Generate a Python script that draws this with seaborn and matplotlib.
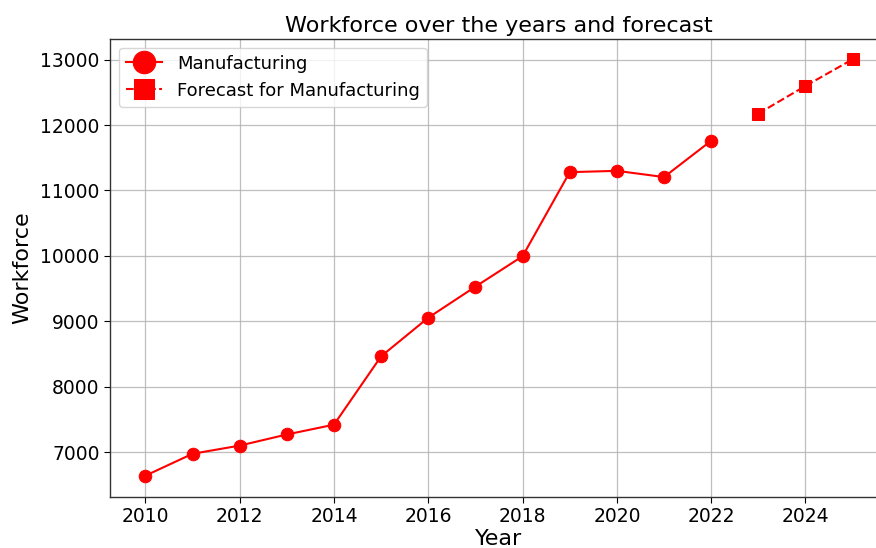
import matplotlib
matplotlib.use("Agg")
import matplotlib.pyplot as plt
import seaborn as sns
import pandas as pd

# Observed workforce in manufacturing
years = [2010, 2011, 2012, 2013, 2014, 2015, 2016, 2017, 2018, 2019, 2020, 2021, 2022]
workforce = [6640, 6975, 7100, 7270, 7420, 8465, 9055, 9530, 9995, 11280, 11300, 11205, 11760]

# Forecast values
forecast_years = [2023, 2024, 2025]
forecast_workforce = [12175, 12598, 13005]

plt.rcParams["font.family"] = ["DejaVu Sans"]

hist = pd.DataFrame({"Year": years, "Workforce": workforce})
fc = pd.DataFrame({"Year": forecast_years, "Workforce": forecast_workforce})

fig = plt.figure(figsize=(8.76, 5.48), dpi=100)
ax = fig.add_axes([110 / 876, 1 - 496.5 / 548, 778 / 876, (496.5 - 38.5) / 548])

sns.lineplot(data=hist, x="Year", y="Workforce", ax=ax, color="red",
             marker="o", markersize=9, markeredgecolor="red", linewidth=1.5,
             label="Manufacturing")
sns.lineplot(data=fc, x="Year", y="Workforce", ax=ax, color="red",
             marker="s", markersize=8, markeredgecolor="red", linewidth=1.5,
             linestyle="--", label="Forecast for Manufacturing")

ax.set_xlim(2009.25, 2025.75)
ax.set_ylim(6322, 13323)
ax.set_xticks([2010, 2012, 2014, 2016, 2018, 2020, 2022, 2024])
ax.set_yticks([7000, 8000, 9000, 10000, 11000, 12000, 13000])
ax.tick_params(axis="both", labelsize=13.5, direction="out", length=4, width=0.8,
               colors="black")
ax.grid(True, color="#b0b0b0", linewidth=0.9, alpha=0.8)
for s in ax.spines.values():
    s.set_color("#333333")
    s.set_linewidth(1.0)
# the right edge of the axes lies past the figure border
ax.spines["right"].set_visible(False)

ax.set_title("Workforce over the years and forecast", fontsize=16, pad=5)
ax.set_xlabel("Year", fontsize=16, labelpad=2)
ax.set_ylabel("Workforce", fontsize=16, labelpad=6)

ax.legend(loc="upper left", fontsize=13, markerscale=1.8, frameon=True)

fig.savefig("out.png", dpi=100)
